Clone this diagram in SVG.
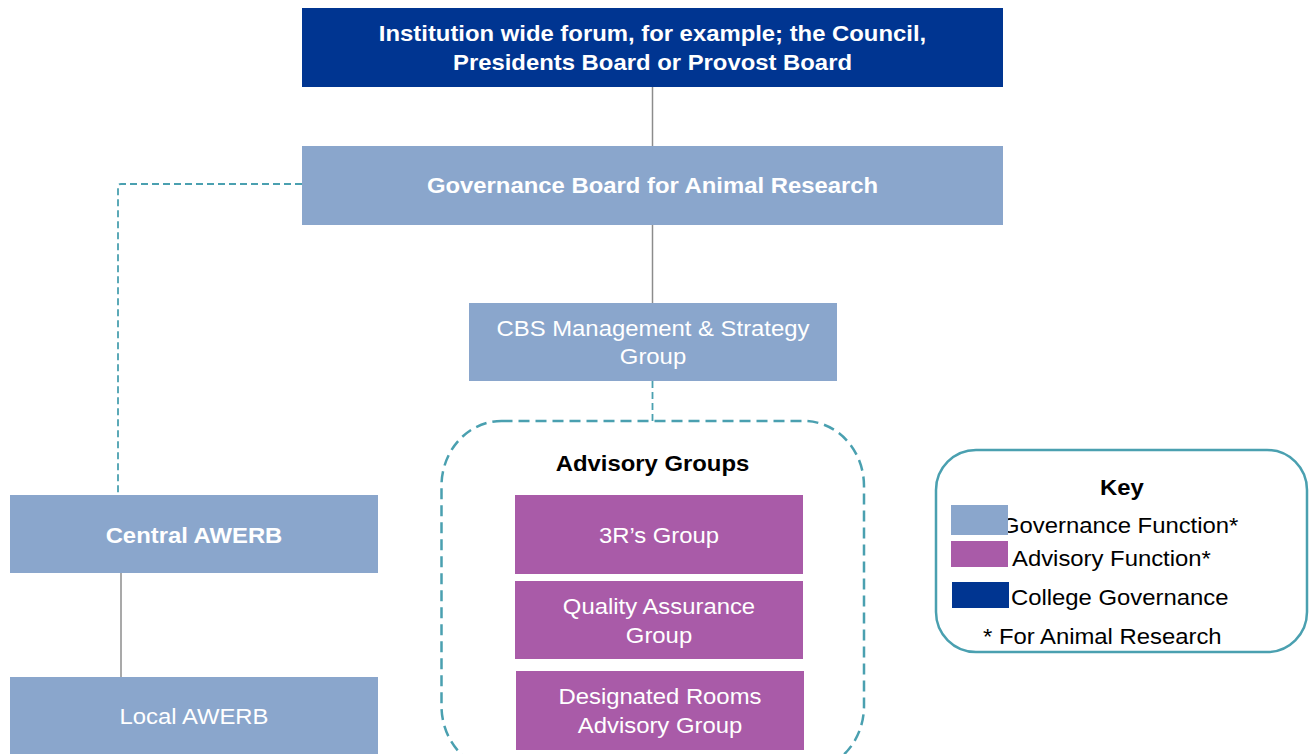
<svg xmlns="http://www.w3.org/2000/svg" width="1313" height="754" viewBox="0 0 1313 754">
  <style>
    .t { font-family: "Liberation Sans", Arial, sans-serif; font-size: 22px; }
    .w { fill: #ffffff; }
    .k { fill: #000000; }
    .b { font-weight: bold; }
    .mid { text-anchor: middle; }
    .college { fill: #003591; }
    .gov { fill: #8aa6cc; }
    .adv { fill: #a95ba8; }
    .solid { stroke: #8c8c8c; stroke-width: 1.5; fill: none; }
    .dash { stroke: #4aa0b0; stroke-width: 1.8; stroke-dasharray: 7 4; fill: none; }
    .frame { stroke: #4aa0b0; stroke-width: 2.5; fill: none; }
  </style>
  <rect width="1313" height="754" fill="#ffffff"/>

  <!-- connectors -->
  <g id="connectors">
    <line class="solid" x1="652.5" y1="87" x2="652.5" y2="146"/>
    <line class="solid" x1="652.5" y1="225" x2="652.5" y2="303"/>
    <line class="solid" x1="121" y1="573" x2="121" y2="677"/>
    <path class="dash" d="M302 184 H121 Q118 184 118 187 V495"/>
    <line class="dash" x1="652.5" y1="381" x2="652.5" y2="421"/>
  </g>

  <g id="institution-forum">
    <rect class="college" x="302" y="8" width="701" height="79"/>
    <text class="t w b mid" transform="matrix(1.085 0 0 1 652.5 0)" x="0" y="41">Institution wide forum, for example; the Council,</text>
    <text class="t w b mid" transform="matrix(1.085 0 0 1 652.5 0)" x="0" y="70">Presidents Board or Provost Board</text>
  </g>

  <g id="governance-board">
    <rect class="gov" x="302" y="146" width="701" height="79"/>
    <text class="t w b mid" transform="matrix(1.085 0 0 1 652.5 0)" x="0" y="193">Governance Board for Animal Research</text>
  </g>

  <g id="cbs-group">
    <rect class="gov" x="469" y="303" width="368" height="78"/>
    <text class="t w mid" transform="matrix(1.085 0 0 1 653 0)" x="0" y="336">CBS Management &amp; Strategy</text>
    <text class="t w mid" transform="matrix(1.085 0 0 1 653 0)" x="0" y="364">Group</text>
  </g>

  <g id="advisory-groups">
    <rect class="frame" x="441.5" y="421" width="422.5" height="350" rx="60" ry="65" stroke-dasharray="11 6"/>
    <text class="t k b mid" transform="matrix(1.085 0 0 1 652.5 0)" x="0" y="471">Advisory Groups</text>
  </g>

  <g id="three-rs-group">
    <rect class="adv" x="515" y="495" width="288" height="79"/>
    <text class="t w mid" transform="matrix(1.085 0 0 1 659 0)" x="0" y="543">3R’s Group</text>
  </g>

  <g id="quality-assurance-group">
    <rect class="adv" x="515" y="581" width="288" height="78"/>
    <text class="t w mid" transform="matrix(1.085 0 0 1 659 0)" x="0" y="614">Quality Assurance</text>
    <text class="t w mid" transform="matrix(1.085 0 0 1 659 0)" x="0" y="643">Group</text>
  </g>

  <g id="designated-rooms-group">
    <rect class="adv" x="516" y="671" width="288" height="79"/>
    <text class="t w mid" transform="matrix(1.085 0 0 1 660 0)" x="0" y="704">Designated Rooms</text>
    <text class="t w mid" transform="matrix(1.085 0 0 1 660 0)" x="0" y="733">Advisory Group</text>
  </g>

  <g id="central-awerb">
    <rect class="gov" x="10" y="495" width="368" height="78"/>
    <text class="t w b mid" transform="matrix(1.085 0 0 1 194 0)" x="0" y="543">Central AWERB</text>
  </g>

  <g id="local-awerb">
    <rect class="gov" x="10" y="677" width="368" height="77"/>
    <text class="t w mid" transform="matrix(1.085 0 0 1 194 0)" x="0" y="724">Local AWERB</text>
  </g>

  <g id="key">
    <rect class="frame" x="936" y="450" width="371" height="202" rx="40" ry="40"/>
    <text class="t k b mid" transform="matrix(1.085 0 0 1 1122 0)" x="0" y="495">Key</text>
    <text class="t k" transform="matrix(1.085 0 0 1 1001 0)" x="0" y="533">Governance Function*</text>
    <rect class="gov" x="951" y="505" width="57" height="30"/>
    <rect class="adv" x="951" y="541" width="57" height="26"/>
    <text class="t k" transform="matrix(1.085 0 0 1 1012 0)" x="0" y="566">Advisory Function*</text>
    <rect class="college" x="952" y="582" width="57" height="26"/>
    <text class="t k" transform="matrix(1.085 0 0 1 1011 0)" x="0" y="605">College Governance</text>
    <text class="t k" transform="matrix(1.085 0 0 1 983 0)" x="0" y="644">* For Animal Research</text>
  </g>
</svg>
